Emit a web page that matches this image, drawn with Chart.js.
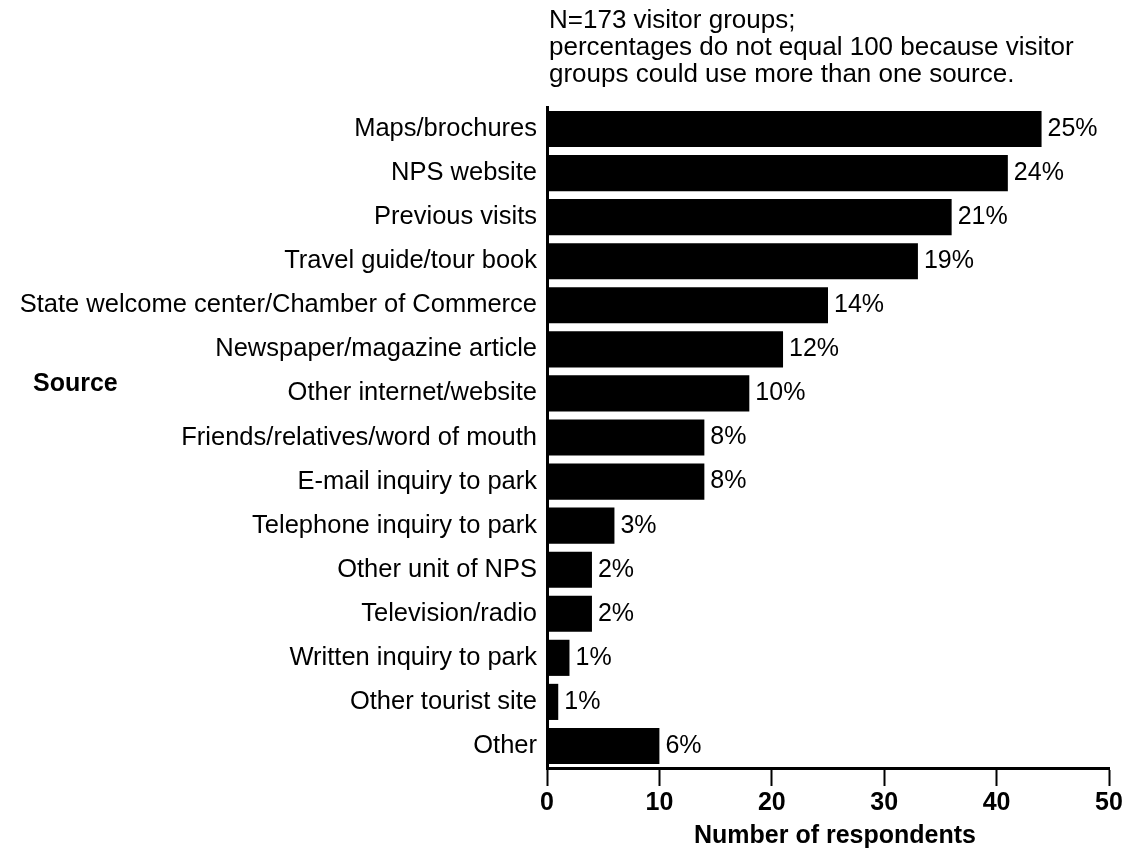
<!DOCTYPE html>
<html>
<head>
<meta charset="utf-8">
<script src="https://cdn.jsdelivr.net/npm/chart.js@4.4.1/dist/chart.umd.min.js"></script>
<style>
  html, body { margin: 0; padding: 0; background: #fff; }
  #wrap { width: 1130px; height: 853px; }
</style>
</head>
<body>
<div id="wrap"><canvas id="myChart" width="1130" height="853"></canvas></div>
<script>
const fuentes = [
  'Maps/brochures',
  'NPS website',
  'Previous visits',
  'Travel guide/tour book',
  'State welcome center/Chamber of Commerce',
  'Newspaper/magazine article',
  'Other internet/website',
  'Friends/relatives/word of mouth',
  'E-mail inquiry to park',
  'Telephone inquiry to park',
  'Other unit of NPS',
  'Television/radio',
  'Written inquiry to park',
  'Other tourist site',
  'Other'
];
const respondentes = [44, 41, 36, 33, 25, 21, 18, 14, 14, 6, 4, 4, 2, 1, 10];
const porcentajes = ['25%', '24%', '21%', '19%', '14%', '12%', '10%', '8%', '8%', '3%', '2%', '2%', '1%', '1%', '6%'];
const ticksX = [0, 10, 20, 30, 40, 50];
const notas = [
  'N=173 visitor groups;',
  'percentages do not equal 100 because visitor',
  'groups could use more than one source.'
];

const fuente = '"Liberation Sans", Arial, Helvetica, sans-serif';

const textosExtra = {
  id: 'textosExtra',
  afterDatasetsDraw(chart) {
    const ctx = chart.ctx;
    const meta = chart.getDatasetMeta(0);
    ctx.save();
    ctx.fillStyle = '#000';
    ctx.font = '25px ' + fuente;
    ctx.textAlign = 'left';
    ctx.textBaseline = 'middle';
    meta.data.forEach((bar, i) => {
      ctx.fillText(porcentajes[i], bar.x + 6, bar.y);
    });
    ctx.restore();
  },
  afterDraw(chart) {
    const ctx = chart.ctx;
    const area = chart.chartArea;
    ctx.save();
    ctx.fillStyle = '#000';
    // notas arriba
    ctx.font = '26px ' + fuente;
    ctx.textAlign = 'left';
    ctx.textBaseline = 'alphabetic';
    notas.forEach((t, i) => {
      ctx.fillText(t, area.left + 2, 28 + i * 27);
    });
    // titulo eje y
    ctx.font = 'bold 25px ' + fuente;
    ctx.textBaseline = 'middle';
    ctx.fillText('Source', 33, 384);
    // titulo eje x
    ctx.textAlign = 'center';
    ctx.fillText('Number of respondents', 835, 836);
    ctx.restore();
  }
};

const ctx = document.getElementById('myChart').getContext('2d');
const myChart = new Chart(ctx, {
  type: 'bar',
  data: {
    labels: fuentes,
    datasets: [{
      data: respondentes,
      backgroundColor: '#000',
      borderWidth: 0,
      barPercentage: 0.82,
      categoryPercentage: 1
    }]
  },
  options: {
    indexAxis: 'y',
    responsive: false,
    animation: false,
    layout: { padding: { top: 107, right: 21, left: 0, bottom: 0 } },
    plugins: {
      legend: { display: false },
      tooltip: { enabled: false }
    },
    scales: {
      x: {
        min: 0,
        max: 50,
        afterBuildTicks: (scale) => { scale.ticks = ticksX.map(v => ({ value: v })); },
        afterFit: (scale) => { scale.height = 85; },
        border: { display: true, color: '#000', width: 3 },
        grid: { drawOnChartArea: false, drawTicks: true, tickLength: 18, tickWidth: 2, tickColor: '#000' },
        ticks: { color: '#000', font: { family: fuente, size: 25, weight: 'bold' }, padding: 2, maxRotation: 0 }
      },
      y: {
        afterFit: (scale) => { scale.width = 547; },
        border: { display: true, color: '#000', width: 3 },
        grid: { display: false, drawTicks: false },
        ticks: { color: '#000', font: { family: fuente, size: 25.5 }, padding: 10, autoSkip: false }
      }
    }
  },
  plugins: [textosExtra]
});
</script>
</body>
</html>
